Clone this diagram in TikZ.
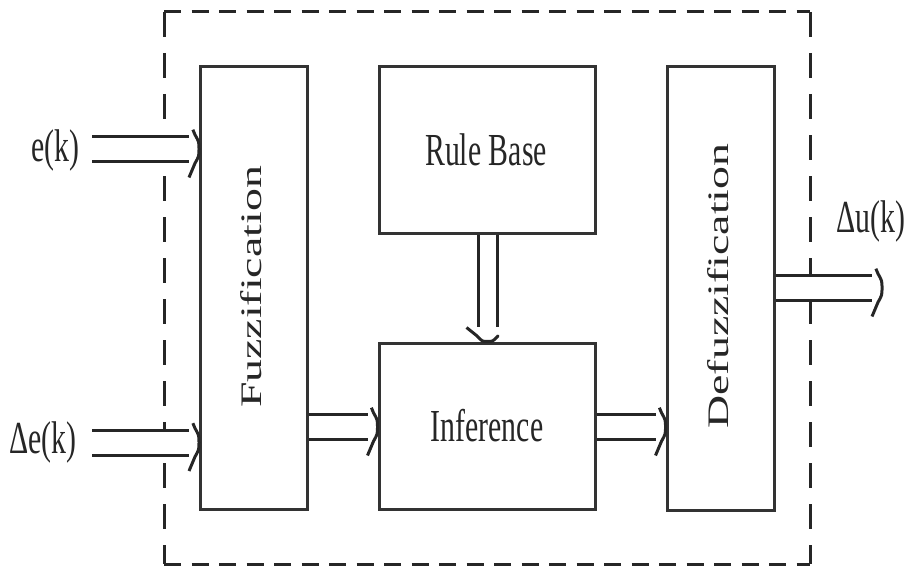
\documentclass[tikz,border=0pt]{standalone}
\usepackage{fontspec}
\setmainfont{Liberation Serif}
\usetikzlibrary{decorations.markings}

% flow arrow: double shaft ending in a thin open chevron
% #1 = gap between the shaft lines, #2 = tip length, #3 = tip half-width
\tikzset{
  block/.style={draw=black!80, line width=3bp, inner sep=0pt, fill=white},
  lbl/.style={text=black!85, inner sep=0pt, font=\fontsize{46}{50}\selectfont},
  flowarrow/.style n args={3}{
    draw=black!85, line width=3bp, double=white, double distance=#1,
    shorten >=#2,
    postaction={decorate, decoration={markings, mark=at position 1 with {
      \draw[black!85, line width=3bp, line cap=butt, line join=round]
        (-#2,-#3) -- (-0.4*#2,-0.5*#3) .. controls (0bp,-0.25*#3) .. (0bp,0bp)
                  .. controls (0bp,0.25*#3) .. (-0.4*#2,0.5*#3) -- (-#2,#3);
    }}}
  },
  flow/.style={flowarrow={22bp}{10bp}{28.5bp}},
  vflow/.style={flowarrow={16bp}{14bp}{21bp}},
  hdash/.style={draw=black!85, line width=3bp, dash pattern=on 17bp off 10.5bp},
  vdash/.style={draw=black!85, line width=3bp, dash pattern=on 25bp off 16bp}
}
\newcommand{\hsq}[1]{\scalebox{0.65}[1]{#1}}
\newcommand{\vsq}[1]{\scalebox{1}[0.65]{#1}}

\begin{document}
\begin{tikzpicture}[x=1bp, y=-1bp]
  \useasboundingbox (0,0) rectangle (907,567);

  % dashed controller boundary
  \coordinate (tl) at (164,12);
  \coordinate (tr) at (810,12);
  \coordinate (br) at (810,564);
  \coordinate (bl) at (164,564);
  \draw[hdash] (tl) -- (tr);
  \draw[hdash] (bl) -- (br);
  \draw[vdash] (tl) -- (bl);
  \draw[vdash] (tr) -- (br);

  % processing blocks
  \node[block, minimum width=107bp, minimum height=442bp] (fuzz) at (254,288) {};
  \node[block, minimum width=107bp, minimum height=443bp] (defuzz) at (720.5,288.5) {};
  \node[block, minimum width=216bp, minimum height=166bp] (rule) at (487,150) {};
  \node[block, minimum width=216bp, minimum height=166bp] (inf) at (487,426) {};

  % block captions
  \node[lbl, rotate=90] at (251,287) {\vsq{Fuzzification}};
  \node[lbl, rotate=90] at (718,286) {\vsq{Defuzzification}};
  \node[lbl] at (486,150) {\hsq{Rule Base}};
  \node[lbl] at (487,426) {\hsq{Inference}};

  % signal labels
  \node[lbl] (ek) at (55,150) {\hsq{e(k)}};
  \node[lbl] (dek) at (43,442) {\hsq{Δe(k)}};
  \node[lbl] (du) at (871,221) {\hsq{Δu(k)}};

  % free ends of the signal arrows
  \coordinate (ein) at (92,149);
  \coordinate (dein) at (92,442.5);
  \coordinate (dout) at (882,288);

  % signal flow
  \draw[flow] (ein) -- (fuzz.west |- ein);
  \draw[flow] (dein) -- (fuzz.west |- dein);
  \draw[flow] (fuzz.east |- 0,427) -- (inf.west |- 0,427);
  \draw[flow] (inf.east |- 0,427) -- (defuzz.west |- 0,427);
  \draw[vflow] (rule.south -| 487.5,0) -- (inf.north -| 487.5,0);
  \draw[flow] (defuzz.east |- dout) -- (dout);
\end{tikzpicture}
\end{document}
